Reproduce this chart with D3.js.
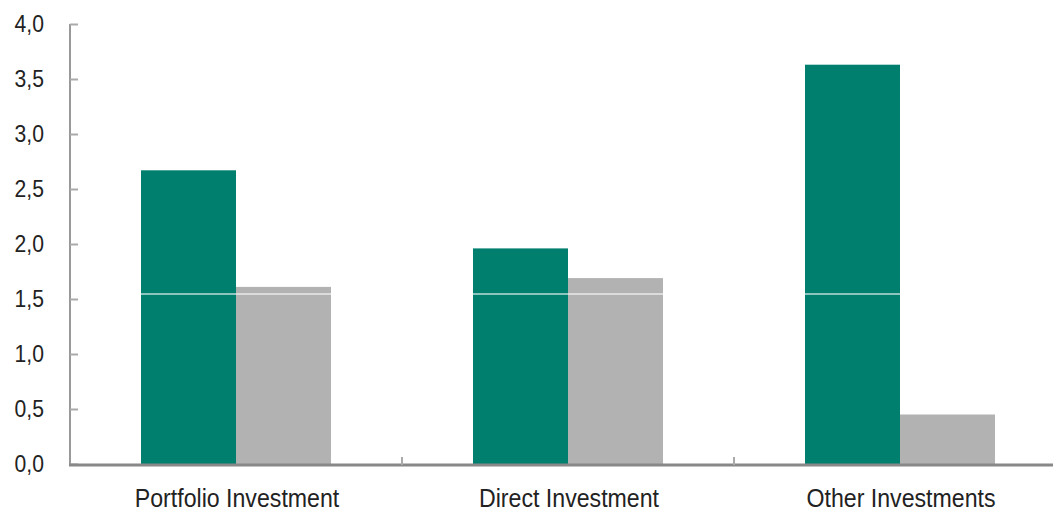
<!DOCTYPE html>
<html>
<head>
<meta charset="utf-8">
<script src="https://cdn.jsdelivr.net/npm/d3@7"></script>
<style>
  body { margin: 0; background: #fff; }
  svg { display: block; }
  text { font-family: "Liberation Sans", Arial, sans-serif; fill: #222; }
</style>
</head>
<body>
<div id="chart"></div>
<script>
// data
var categories = ["Portfolio Investment", "Direct Investment", "Other Investments"];
var seriesA = [2.67, 1.96, 3.63];   // green
var seriesB = [1.61, 1.69, 0.45];   // grey
var yTicks = [0, 0.5, 1, 1.5, 2, 2.5, 3, 3.5, 4];
var refLine = 1.545;

var W = 1053, H = 511;
var svg = d3.select("#chart").append("svg")
  .attr("width", W).attr("height", H);

var x = d3.scaleBand()
  .domain(categories)
  .range([70, 1066]);

var inner = d3.scaleBand()
  .domain(["a", "b"])
  .range([71, x.bandwidth() - 71]);

var y = d3.scaleLinear()
  .domain([0, 4])
  .range([464, 24]);

var comma = function(d) { return d3.format(".1f")(d).replace(".", ","); };

// bars
var g = svg.append("g").selectAll("g")
  .data(categories)
  .enter().append("g")
    .attr("transform", function(d) { return "translate(" + x(d) + ",0)"; });

g.append("rect")
  .attr("x", inner("a"))
  .attr("width", inner.bandwidth())
  .attr("y", function(d, i) { return y(seriesA[i]); })
  .attr("height", function(d, i) { return y(0) - y(seriesA[i]); })
  .style("fill", "#007f6e");

g.append("rect")
  .attr("x", inner("b"))
  .attr("width", inner.bandwidth())
  .attr("y", function(d, i) { return y(seriesB[i]); })
  .attr("height", function(d, i) { return y(0) - y(seriesB[i]); })
  .style("fill", "#b2b2b2");

// faint line across the bars
svg.append("line")
  .attr("x1", 71).attr("x2", W)
  .attr("y1", y(refLine)).attr("y2", y(refLine))
  .style("stroke", "#fff").style("stroke-opacity", 0.55).style("stroke-width", 2);

// y axis
var yAxis = svg.append("g")
  .attr("transform", "translate(70,0)")
  .call(d3.axisRight(y).tickValues(yTicks).tickSize(8).tickFormat(""));
yAxis.select(".domain").attr("d", "M0," + y(4) + "V" + y(0))
  .style("stroke", "#999").style("stroke-width", 2);
yAxis.selectAll(".tick line").style("stroke", "#aaa").style("stroke-width", 2);

svg.append("g").selectAll("text")
  .data(yTicks)
  .enter().append("text")
    .attr("transform", function(d) { return "translate(44," + (y(d) + 8) + ") scale(0.92,1)"; })
    .attr("text-anchor", "end")
    .style("font-size", "23px")
    .text(comma);

// x axis
var xAxis = svg.append("g")
  .attr("transform", "translate(0," + (y(0) + 1) + ")");
xAxis.append("line")
  .attr("x1", 69).attr("x2", W)
  .style("stroke", "#888").style("stroke-width", 3);
xAxis.selectAll(".sep")
  .data(categories.slice(1))
  .enter().append("line")
    .attr("class", "sep")
    .attr("x1", function(d) { return x(d); })
    .attr("x2", function(d) { return x(d); })
    .attr("y1", 0).attr("y2", -8)
    .style("stroke", "#aaa").style("stroke-width", 2);

svg.append("g").selectAll("text")
  .data(categories)
  .enter().append("text")
    .attr("transform", function(d) { return "translate(" + (x(d) + x.bandwidth() / 2 + 1) + ",507) scale(0.89,1)"; })
    .attr("text-anchor", "middle")
    .style("font-size", "26px")
    .text(function(d) { return d; });
</script>
</body>
</html>
